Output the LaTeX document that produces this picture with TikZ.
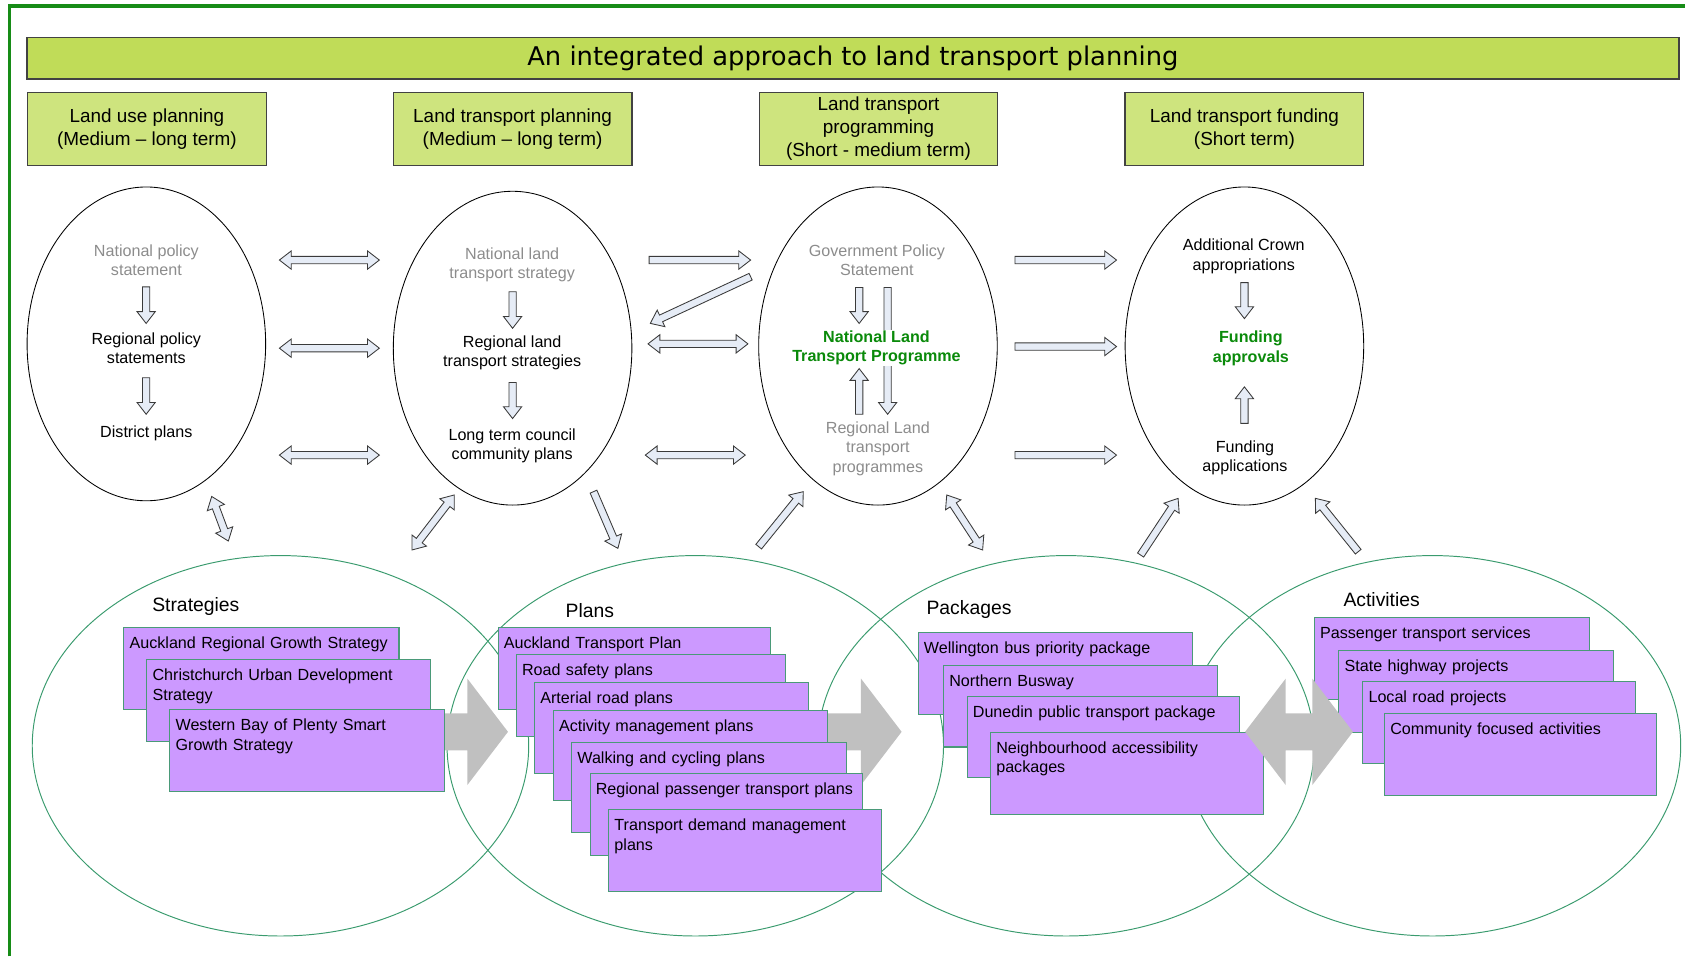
\documentclass[tikz,border=0pt]{standalone}
\usepackage{fontspec}
\setmainfont{Liberation Sans}
\newfontfamily\headfont{DejaVu Sans}
\usetikzlibrary{calc,shapes.geometric}
\definecolor{framegreen}{HTML}{178C17}
\definecolor{barfill}{HTML}{C0DC58}
\definecolor{headfill}{HTML}{CEE47E}
\definecolor{barline}{HTML}{424242}
\definecolor{arrowfill}{HTML}{E6ECF6}
\definecolor{arrowline}{HTML}{3A3A3A}
\definecolor{softgray}{HTML}{8C8C8C}
\definecolor{nltpgreen}{HTML}{0A8A0A}
\definecolor{ringline}{HTML}{3A9B6E}
\definecolor{itemfill}{HTML}{CC99FF}
\definecolor{itemline}{HTML}{4A9A78}
\definecolor{flowgray}{HTML}{C0C0C0}

% block arrow from #2 to #3, #1 = number of heads
\newcommand{\blockarrow}[3]{%
  \path let \p1=($(#3)-(#2)$) in
    \pgfextra{\pgfmathparse{atan2(\y1,\x1)}\xdef\arang{\pgfmathresult}%
              \pgfmathparse{veclen(\x1,\y1)}\xdef\arlen{\pgfmathresult}};
  \begin{scope}[shift={(#2)}, rotate=\arang]
    \ifnum#1=2
      \path[arrowpaint] (0,0) -- (\arhead,\arwide) -- (\arhead,\arshaft)
        -- ({\arlen-\arhead},\arshaft) -- ({\arlen-\arhead},\arwide) -- (\arlen,0)
        -- ({\arlen-\arhead},-\arwide) -- ({\arlen-\arhead},-\arshaft)
        -- (\arhead,-\arshaft) -- (\arhead,-\arwide) -- cycle;
    \else
      \path[arrowpaint] (0,\arshaft) -- ({\arlen-\arhead},\arshaft)
        -- ({\arlen-\arhead},\arwide) -- (\arlen,0) -- ({\arlen-\arhead},-\arwide)
        -- ({\arlen-\arhead},-\arshaft) -- (0,-\arshaft) -- cycle;
    \fi
  \end{scope}}

\begin{document}
\begin{tikzpicture}[x=1pt, y=-1pt,
    titlebar/.style={draw=barline, line width=1.4pt, fill=barfill, inner sep=0pt},
    stagebox/.style={draw=barline, line width=1.2pt, fill=headfill, minimum width=222pt,
      minimum height=68pt, align=center, inner sep=0pt, font=\fontsize{17.6}{21.5}\selectfont},
    ring/.style={draw, ellipse, line width=0.8pt, minimum width=222pt, inner sep=0pt},
    zone/.style={draw=ringline, ellipse, line width=0.9pt, minimum width=462pt,
      minimum height=354pt, inner sep=0pt},
    intext/.style={align=center, inner sep=0.5pt, font=\fontsize{15}{18}\selectfont},
    softtext/.style={intext, text=softgray},
    keytext/.style={intext, text=nltpgreen, font=\fontsize{15}{18}\selectfont\bfseries},
    zonelabel/.style={anchor=west, inner sep=0pt, font=\fontsize{18}{21}\selectfont},
    entry/.style={draw=itemline, line width=1pt, fill=itemfill, anchor=north west,
      inner xsep=5.3pt, inner ysep=5pt, align=left, text height=14.5pt,
      font=\fontsize{15}{18}\selectfont},
    arrowpaint/.style={draw=arrowline, line width=0.8pt, fill=arrowfill}]
  \useasboundingbox (0,0) rectangle (1568,890);
  \def\arshaft{3.4}\def\arwide{8.5}\def\arhead{11}

  % frame and headings
  \draw[framegreen, line width=3.4pt] (8.8,890) -- (8.8,5.3) -- (1568,5.3);
  \node[titlebar, minimum width=1537pt, minimum height=38.5pt,
        font=\headfont\fontsize{24}{28}\selectfont] (title) at (793.7,54.2)
    {An integrated approach to land transport planning};
  \foreach \x/\t [count=\i] in {136.7/{Land use planning\\(Medium – long term)},
      477/{Land transport planning\\(Medium – long term)},
      817.5/{Land transport\\programming\\(Short - medium term)},
      1158/{Land transport funding\\(Short term)}}
    \node[stagebox] (stage\i) at (\x,120) {\t};

  % upper ellipses
  \foreach \x/\y/\h [count=\i] in {136.2/320/292, 477/324/292, 817/322/296, 1158/322/296}
    \node[ring, minimum height=\h pt] (u\i) at (\x,\y) {};

  % outline arrows
  \foreach \k/\xa/\ya/\xb/\yb [count=\i] in {
      2/260/242/353/242, 2/260/324/353/324, 2/260/423.5/353/423.5,
      1/604/242/698.5/242, 1/698.5/257.5/605/301, 2/603/320/696/320,
      2/600.5/423.5/693.5/423.5,
      1/944.5/242/1039/242, 1/944.5/322.5/1039/322.5, 1/944.5/423.5/1039/423.5,
      1/136/267/136/301, 1/136/351.5/136/385.5, 1/477/271.5/477/305.5,
      1/477/356/477/389.5, 1/799.5/267.5/799.5/301, 1/826/267.5/826/385.5,
      1/799.5/385.5/799.5/343, 1/1158/263/1158/296.5, 1/1158/394/1158/360,
      2/197/462/212.5/503.5, 2/422.7/460.6/383.4/511.8, 1/552.3/457.5/575/510.3,
      1/706/508.7/747.5/457.5, 2/881/460.6/914.4/511.8,
      1/1061.4/516.5/1096.3/463.7, 1/1263.9/513.4/1224/463.7}{
    \coordinate (f\i) at (\xa,\ya);
    \coordinate (t\i) at (\xb,\yb);
    \blockarrow{\k}{f\i}{t\i}
  }

  % texts in the upper ellipses
  \node[softtext] (nps) at (136.2,242) {National policy\\statement};
  \node[intext] (rps) at (136.2,324) {Regional policy\\statements};
  \node[intext] (dp) at (136.2,403) {District plans};
  \node[softtext] (nlts) at (476.6,246.5) {National land\\transport strategy};
  \node[intext] (rlts) at (476.6,328.5) {Regional land\\transport strategies};
  \node[intext] (ltcc) at (476.6,415) {Long term council\\community plans};
  \node[softtext] (gps) at (816,242) {Government Policy\\Statement};
  \node[keytext, fill=white] (nltp) at (815.6,324) {National Land\\Transport Programme};
  \node[softtext] (rltp) at (816.9,417.5) {Regional Land\\transport\\programmes};
  \node[intext] (aca) at (1157.4,238.5) {Additional Crown\\appropriations};
  \node[keytext] (fap) at (1164,324) {Funding\\approvals};
  \node[intext] (fapp) at (1158.5,426) {Funding\\applications};

  % lower ellipses
  \foreach \x [count=\i] in {261,647,992,1333}
    \node[zone] (z\i) at (\x,694) {};

  \begin{scope}[arrowpaint/.style={fill=flowgray}]
    \def\arshaft{17.2}\def\arwide{49.5}\def\arhead{37.8}
    \coordinate (g1) at (405,681);  \coordinate (h1) at (472.7,681);
    \coordinate (g2) at (760,681);  \coordinate (h2) at (839,681);
    \blockarrow{1}{g1}{h1}
    \blockarrow{1}{g2}{h2}
  \end{scope}

  % strategies, plans, packages, activities
  \foreach \x/\y/\w/\h/\t [count=\i, evaluate=\w as \tw using \w-10.6,
      evaluate=\h as \td using \h-24.5] in {
      114.8/583.8/256/76/{Auckland Regional Growth Strategy},
      136.2/613.5/264/76/{Christchurch Urban Development\\Strategy},
      157.6/660.1/255.3/76/{Western Bay of Plenty Smart\\Growth Strategy}}
    \node[entry, text width=\tw pt, text depth=\td pt] (s\i) at (\x,\y) {\t};
  \foreach \x/\y/\w/\h/\t [count=\i, evaluate=\w as \tw using \w-10.6,
      evaluate=\h as \td using \h-24.5] in {
      463/583.8/253.4/76/{Auckland Transport Plan},
      480/608.6/250.8/76/{Road safety plans},
      497/635/255/84/{Arterial road plans},
      514.4/660.7/255.4/84/{Activity management plans},
      531.5/690.2/255.3/84/{Walking and cycling plans},
      548.6/719.6/253.2/76/{Regional passenger transport plans},
      566/753.1/254/76/{Transport demand management\\plans}}
    \node[entry, text width=\tw pt, text depth=\td pt] (p\i) at (\x,\y) {\t};
  \foreach \x/\y/\w/\h/\t [count=\i, evaluate=\w as \tw using \w-10.6,
      evaluate=\h as \td using \h-24.5] in {
      854/588/255/76/{Wellington bus priority package},
      877.6/618.6/255/76/{Northern Busway},
      899.5/647.4/253.2/76/{Dunedin public transport package},
      921.3/681/253.7/76.5/{Neighbourhood accessibility\\packages}}
    \node[entry, text width=\tw pt, text depth=\td pt] (k\i) at (\x,\y) {\t};
  \foreach \x/\y/\w/\h/\t [count=\i, evaluate=\w as \tw using \w-10.6,
      evaluate=\h as \td using \h-24.5] in {
      1222.6/574.5/255.7/76/{Passenger transport services},
      1245.4/605/255.6/76/{State highway projects},
      1267.7/633.7/253.3/76/{Local road projects},
      1288/663.5/252.8/76.3/{Community focused activities}}
    \node[entry, text width=\tw pt, text depth=\td pt] (a\i) at (\x,\y) {\t};

  \node[zonelabel] (lstr) at (141.5,564) {Strategies};
  \node[zonelabel] (lpla) at (526.2,568.3) {Plans};
  \node[zonelabel] (lpac) at (862,567) {Packages};
  \node[zonelabel] (lact) at (1250,557.7) {Activities};

  \begin{scope}[arrowpaint/.style={fill=flowgray}]
    \def\arshaft{17.2}\def\arwide{49.5}\def\arhead{37.8}
    \coordinate (g3) at (1158.6,681);  \coordinate (h3) at (1259,681);
    \blockarrow{2}{g3}{h3}
  \end{scope}
\end{tikzpicture}
\end{document}
